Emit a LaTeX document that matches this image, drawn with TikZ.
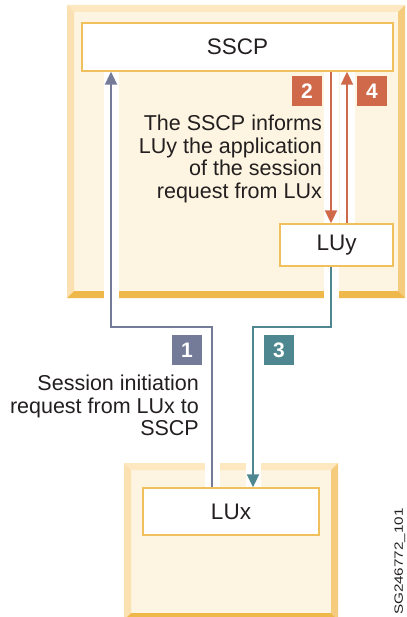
\documentclass[tikz,border=0pt]{standalone}
\usepackage{fontspec}
\setmainfont{Liberation Sans}
\usetikzlibrary{arrows.meta}
\pgfdeclarelayer{back}
\pgfdeclarelayer{mid}
\pgfsetlayers{back,mid,main}
\definecolor{panelin}{HTML}{FDF5E1}
\definecolor{bevtop}{HTML}{FDE8C2}
\definecolor{bevleft}{HTML}{FBE1B2}
\definecolor{bevright}{HTML}{F5CB7E}
\definecolor{bevbot}{HTML}{EFB84A}
\definecolor{boxline}{HTML}{F0C05C}
\definecolor{cone}{HTML}{747B99}
\definecolor{cthree}{HTML}{4E878F}
\definecolor{ctwo}{HTML}{D0694A}
\definecolor{ink}{HTML}{231F20}
\newcommand{\bevpanel}[4]{%
  \fill[panelin] (#1,#2) rectangle (#3,#4);
  \fill[bevtop] (#1,#2) -- (#3,#2) -- (#3-7,#2+7) -- (#1+7,#2+7) -- cycle;
  \fill[bevleft] (#1,#2) -- (#1+7,#2+7) -- (#1+7,#4-7) -- (#1,#4) -- cycle;
  \fill[bevright] (#3,#2) -- (#3,#4) -- (#3-7,#4-7) -- (#3-7,#2+7) -- cycle;
  \fill[bevbot] (#1,#4) -- (#3,#4) -- (#3-7,#4-7) -- (#1+7,#4-7) -- cycle;
}
\begin{document}
\begin{tikzpicture}[x=1pt,y=-1pt,
  unitbox/.style={draw=boxline, line width=1.4pt, fill=white, inner sep=0pt,
    text=ink, font=\fontsize{22.5}{22.5}\selectfont},
  txt/.style={inner sep=0pt, align=right, text=ink,
    font=\fontsize{21.5}{22.6}\selectfont},
  numbox/.style={minimum size=30pt, inner sep=0pt, text=white,
    font=\bfseries\fontsize{21}{21}\selectfont},
  conn/.style={line width=2pt, line join=miter,
    preaction={draw=white, line width=15pt, arrows=-}},
  tip/.style={-{Triangle[width=12pt,length=13pt]}}
]
\useasboundingbox (0,0) rectangle (406,617);
\begin{pgfonlayer}{back}
  \fill[white] (0,0) rectangle (406,617);
  \bevpanel{67}{5}{405}{298}
  \bevpanel{124}{463}{338}{620}
\end{pgfonlayer}

% units
\node[unitbox, minimum width=311pt, minimum height=48pt] (sscp) at (237.5,47) {SSCP};
\node[unitbox, minimum width=113pt, minimum height=42pt] (luy) at (336.5,245) {LUy};
\node[unitbox, minimum width=176pt, minimum height=47pt] (lux) at (231,511.5) {LUx};

% junction coordinates
\coordinate (a1) at (212,327);
\coordinate (b1) at (111,327);
\coordinate (a3) at (331,327);
\coordinate (b3) at (253,327);
\coordinate (x2) at (331,0);
\coordinate (x4) at (347,0);

\begin{pgfonlayer}{mid}
  \draw[conn, tip, cone] (lux.north -| a1) -- (a1) -- (b1) -- (sscp.south -| b1);
  \draw[conn, tip, ctwo] (sscp.south -| x2) -- (luy.north -| x2);
  \draw[conn, tip, ctwo] (luy.north -| x4) -- (sscp.south -| x4);
  \draw[conn, tip, cthree] (luy.south -| a3) -- (a3) -- (b3) -- (lux.north -| b3);
\end{pgfonlayer}

% step numbers
\node[numbox, fill=cone] (n1) at (187,350) {1};
\node[numbox, fill=ctwo] (n2) at (307,91) {2};
\node[numbox, fill=cthree] (n3) at (279,350) {3};
\node[numbox, fill=ctwo] (n4) at (372,91) {4};

% texts
\node[txt, anchor=north east] (t2) at (322,115)
  {The SSCP informs\\LUy the application\\of the session\\request from LUx};
\node[txt, anchor=north east] (t1) at (199,375)
  {Session initiation\\request from LUx to\\SSCP};

\node[rotate=90, anchor=south east, inner sep=0pt, text=ink,
  font=\fontsize{12}{12}\selectfont] (fig) at (405.5,508)
  {\scalebox{1.27}[1]{SG246772\_101}};
\end{tikzpicture}
\end{document}
